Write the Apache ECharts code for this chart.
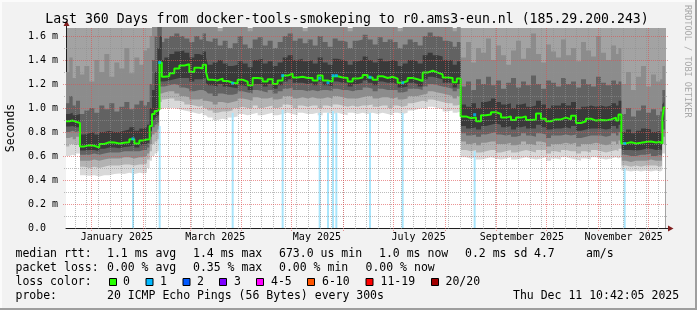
<!DOCTYPE html>
<html><head><meta charset="utf-8">
<script src="https://cdn.jsdelivr.net/npm/echarts@6/dist/echarts.min.js"></script>
<style>html,body{margin:0;padding:0;background:#f2f2f2;}#c{width:697px;height:310px;}</style>
</head><body><div id="c"></div>
<script>
// ---------------- data ----------------
// time axis: days after the graph start (Dec 16 2024 10:42:05)
const START = Date.UTC(2024, 11, 16, 10, 42, 5);
const SPAN_DAYS = 360;
const Y_MAX = 1.6667; // ms

const days = [
  0, 2, 4, 6,
  8.4, 11, 14, 17, 20, 23, 26, 29, 32, 35, 38, 41, 44, 46.5,
  48.6, 50.2, 51.6, 53.2, 54.8,
  56.1, 57.5, 59, 62, 65, 68, 71, 74, 77, 80, 82, 84,
  85.2, 88, 91, 94, 97, 100, 103, 106, 109, 112, 115, 118, 121, 124, 127, 130, 133, 136, 139, 142,
  145, 148, 151, 154, 157, 160, 163, 166, 169, 172, 175, 178, 181, 184, 187, 190, 193, 196, 199, 202,
  205, 208, 211, 214, 217, 220, 223, 226, 229, 232, 234.5,
  236.8, 240, 243, 246, 249, 252, 255, 258, 261, 264, 267, 270, 273, 276, 279, 282, 285, 288, 291, 294,
  297, 300, 303, 306, 309, 312, 315, 318, 321, 324, 327, 330, 331.5,
  333.2, 336, 339, 342, 345, 348, 351, 354, 356.5,
  357.8, 358.7, 359.4
];

// median rtt (ms)
const median = [
  0.89, 0.895, 0.885, 0.875,
  0.68, 0.69, 0.685, 0.67, 0.70, 0.715, 0.712, 0.705, 0.71, 0.715, 0.74, 0.705, 0.73, 0.737,
  0.74, 0.85, 0.95, 0.975, 0.99,
  1.38, 1.26, 1.265, 1.29, 1.33, 1.355, 1.365, 1.30, 1.335, 1.33, 1.36, 1.30,
  1.235, 1.23, 1.245, 1.225, 1.21, 1.205, 1.235, 1.22, 1.19, 1.25, 1.245, 1.22, 1.24, 1.20, 1.23, 1.27, 1.285, 1.255, 1.26, 1.25,
  1.25, 1.23, 1.27, 1.23, 1.22, 1.265, 1.255, 1.25, 1.22, 1.245, 1.255, 1.275, 1.255, 1.235, 1.265, 1.25, 1.26, 1.245, 1.21, 1.225,
  1.25, 1.24, 1.225, 1.295, 1.31, 1.295, 1.28, 1.255, 1.25, 1.215, 1.245,
  0.93, 0.915, 0.92, 0.89, 0.94, 0.945, 0.965, 0.95, 0.92, 0.93, 0.90, 0.92, 0.93, 0.90, 0.905, 0.955, 0.91, 0.89, 0.905, 0.905,
  0.92, 0.905, 0.935, 0.875, 0.89, 0.91, 0.895, 0.90, 0.897, 0.905, 0.92, 0.895, 0.945,
  0.705, 0.715, 0.705, 0.71, 0.716, 0.72, 0.712, 0.716, 0.704,
  0.914, 1.005, 1.005
];

// smoke: lower edges (L1 outermost ... L5 innermost)
const smokeL1 = [
  0.60, 0.61, 0.60, 0.62,
  0.44, 0.435, 0.44, 0.43, 0.44, 0.44, 0.45, 0.455, 0.45, 0.46, 0.45, 0.46, 0.455, 0.46,
  0.50, 0.56, 0.60, 0.62, 0.64,
  0.99, 1.0, 1.0, 1.0, 0.99, 0.98, 0.97, 0.96, 0.95, 0.96, 0.94, 0.95,
  0.92, 0.90, 0.91, 0.90, 0.92, 0.93, 0.95, 0.94, 0.95, 0.96, 0.94, 0.95, 0.96, 0.94, 0.95, 0.96, 0.95, 0.94, 0.96, 0.95,
  0.95, 0.96, 0.94, 0.96, 0.95, 0.96, 0.95, 0.94, 0.96, 0.95, 0.96, 0.95, 0.96, 0.95, 0.96, 0.95, 0.94, 0.96, 0.95, 0.96,
  0.98, 0.99, 1.0, 0.99, 1.01, 1.0, 0.99, 0.97, 0.98, 0.96, 0.97,
  0.59, 0.58, 0.59, 0.57, 0.58, 0.59, 0.58, 0.57, 0.58, 0.59, 0.57, 0.58, 0.59, 0.58, 0.57, 0.58, 0.59, 0.56, 0.58, 0.57,
  0.59, 0.58, 0.57, 0.56, 0.58, 0.57, 0.59, 0.58, 0.57, 0.58, 0.59, 0.58, 0.59,
  0.48, 0.47, 0.48, 0.47, 0.48, 0.47, 0.48, 0.47, 0.48,
  0.62, 0.62, 0.62
];
const smokeL2 = [
  0.68, 0.70, 0.69, 0.70,
  0.51, 0.50, 0.51, 0.50, 0.51, 0.52, 0.52, 0.52, 0.53, 0.53, 0.52, 0.53, 0.53, 0.54,
  0.57, 0.64, 0.70, 0.72, 0.74,
  1.05, 1.07, 1.08, 1.08, 1.06, 1.05, 1.03, 1.02, 1.01, 1.02, 1.0, 1.01,
  0.98, 0.96, 0.97, 0.97, 0.98, 1.0, 1.01, 1.0, 1.0, 1.02, 1.0, 1.01, 1.02, 1.0, 1.01, 1.03, 1.02, 1.0, 1.02, 1.01,
  1.02, 1.02, 1.0, 1.02, 1.01, 1.03, 1.02, 1.01, 1.02, 1.01, 1.02, 1.02, 1.03, 1.01, 1.02, 1.02, 1.0, 1.02, 1.01, 1.02,
  1.04, 1.05, 1.06, 1.05, 1.07, 1.06, 1.05, 1.04, 1.04, 1.02, 1.03,
  0.65, 0.64, 0.65, 0.63, 0.64, 0.65, 0.65, 0.63, 0.64, 0.65, 0.63, 0.64, 0.65, 0.64, 0.63, 0.65, 0.65, 0.62, 0.64, 0.63,
  0.65, 0.64, 0.64, 0.62, 0.64, 0.63, 0.65, 0.64, 0.63, 0.64, 0.65, 0.64, 0.66,
  0.52, 0.51, 0.52, 0.51, 0.52, 0.52, 0.52, 0.51, 0.52,
  0.70, 0.70, 0.70
];
const smokeL3 = [
  0.75, 0.76, 0.74, 0.76,
  0.56, 0.56, 0.57, 0.56, 0.57, 0.58, 0.58, 0.58, 0.59, 0.59, 0.58, 0.59, 0.59, 0.60,
  0.62, 0.70, 0.78, 0.80, 0.82,
  1.12, 1.13, 1.14, 1.14, 1.12, 1.10, 1.09, 1.07, 1.07, 1.08, 1.06, 1.06,
  1.05, 1.03, 1.05, 1.04, 1.05, 1.06, 1.08, 1.07, 1.06, 1.09, 1.08, 1.08, 1.09, 1.07, 1.08, 1.10, 1.10, 1.08, 1.09, 1.08,
  1.09, 1.08, 1.08, 1.09, 1.08, 1.10, 1.09, 1.08, 1.08, 1.08, 1.09, 1.10, 1.10, 1.08, 1.09, 1.09, 1.08, 1.09, 1.07, 1.08,
  1.10, 1.10, 1.11, 1.12, 1.14, 1.13, 1.12, 1.11, 1.10, 1.08, 1.10,
  0.72, 0.70, 0.71, 0.69, 0.71, 0.72, 0.72, 0.70, 0.70, 0.71, 0.69, 0.70, 0.72, 0.70, 0.69, 0.72, 0.71, 0.68, 0.70, 0.70,
  0.71, 0.70, 0.71, 0.68, 0.70, 0.70, 0.71, 0.70, 0.69, 0.70, 0.72, 0.70, 0.73,
  0.56, 0.55, 0.56, 0.56, 0.56, 0.57, 0.56, 0.56, 0.56,
  0.76, 0.76, 0.76
];
const smokeL4 = [
  0.80, 0.81, 0.80, 0.81,
  0.61, 0.61, 0.62, 0.61, 0.62, 0.63, 0.63, 0.63, 0.64, 0.64, 0.64, 0.64, 0.65, 0.65,
  0.67, 0.76, 0.84, 0.86, 0.88,
  1.18, 1.18, 1.19, 1.20, 1.19, 1.17, 1.16, 1.14, 1.15, 1.15, 1.14, 1.13,
  1.12, 1.10, 1.12, 1.11, 1.11, 1.12, 1.14, 1.13, 1.12, 1.15, 1.14, 1.13, 1.15, 1.12, 1.14, 1.16, 1.17, 1.15, 1.15, 1.14,
  1.15, 1.14, 1.15, 1.15, 1.14, 1.16, 1.15, 1.15, 1.14, 1.15, 1.15, 1.17, 1.16, 1.14, 1.16, 1.15, 1.15, 1.15, 1.13, 1.14,
  1.16, 1.16, 1.15, 1.18, 1.20, 1.19, 1.18, 1.17, 1.16, 1.14, 1.16,
  0.79, 0.77, 0.78, 0.76, 0.78, 0.79, 0.80, 0.78, 0.77, 0.78, 0.76, 0.77, 0.79, 0.77, 0.76, 0.79, 0.78, 0.75, 0.77, 0.77,
  0.78, 0.77, 0.78, 0.75, 0.76, 0.77, 0.77, 0.77, 0.76, 0.77, 0.79, 0.77, 0.80,
  0.61, 0.60, 0.60, 0.61, 0.61, 0.62, 0.60, 0.61, 0.60,
  0.82, 0.82, 0.82
];
const smokeL5 = [
  0.845, 0.85, 0.84, 0.84,
  0.645, 0.65, 0.65, 0.64, 0.66, 0.67, 0.67, 0.665, 0.675, 0.68, 0.69, 0.67, 0.69, 0.69,
  0.71, 0.81, 0.90, 0.92, 0.94,
  1.22, 1.22, 1.23, 1.24, 1.25, 1.25, 1.25, 1.22, 1.24, 1.24, 1.25, 1.21,
  1.19, 1.18, 1.20, 1.18, 1.17, 1.165, 1.19, 1.18, 1.15, 1.20, 1.20, 1.18, 1.20, 1.16, 1.19, 1.22, 1.24, 1.21, 1.21, 1.20,
  1.21, 1.19, 1.22, 1.19, 1.18, 1.22, 1.21, 1.21, 1.18, 1.20, 1.21, 1.23, 1.21, 1.19, 1.22, 1.21, 1.21, 1.20, 1.17, 1.18,
  1.21, 1.20, 1.18, 1.24, 1.26, 1.25, 1.24, 1.21, 1.21, 1.17, 1.20,
  0.85, 0.83, 0.84, 0.82, 0.85, 0.86, 0.87, 0.86, 0.84, 0.85, 0.82, 0.84, 0.85, 0.83, 0.83, 0.86, 0.84, 0.82, 0.83, 0.83,
  0.84, 0.83, 0.85, 0.81, 0.82, 0.83, 0.83, 0.83, 0.82, 0.83, 0.85, 0.83, 0.86,
  0.65, 0.65, 0.645, 0.65, 0.66, 0.66, 0.65, 0.655, 0.645,
  0.86, 0.90, 0.90
];
// smoke: upper edges (U5 innermost ... U3 outermost shown)
const smokeU5 = [
  0.95, 0.96, 0.94, 0.95,
  0.78, 0.79, 0.80, 0.78, 0.80, 0.81, 0.80, 0.80, 0.81, 0.82, 0.84, 0.81, 0.83, 0.84,
  0.86, 1.0, 1.15, 1.3, 1.5,
  1.60, 1.40, 1.42, 1.45, 1.47, 1.48, 1.46, 1.42, 1.45, 1.44, 1.47, 1.42,
  1.36, 1.38, 1.40, 1.37, 1.35, 1.36, 1.39, 1.37, 1.34, 1.40, 1.41, 1.37, 1.39, 1.35, 1.38, 1.42, 1.44, 1.40, 1.41, 1.39,
  1.40, 1.37, 1.42, 1.38, 1.36, 1.41, 1.40, 1.39, 1.36, 1.39, 1.40, 1.43, 1.40, 1.38, 1.41, 1.39, 1.40, 1.39, 1.35, 1.37,
  1.40, 1.39, 1.37, 1.44, 1.46, 1.44, 1.43, 1.40, 1.40, 1.36, 1.39,
  1.03, 1.01, 1.04, 1.00, 1.05, 1.06, 1.08, 1.05, 1.03, 1.04, 1.00, 1.03, 1.04, 1.01, 1.02, 1.06, 1.03, 1.00, 1.02, 1.02,
  1.04, 1.02, 1.05, 0.99, 1.01, 1.02, 1.01, 1.02, 1.01, 1.02, 1.04, 1.02, 1.06,
  0.80, 0.82, 0.79, 0.81, 0.83, 0.82, 0.80, 0.81, 0.79,
  1.03, 1.05, 1.05
];
const smokeU4 = [
  1.04, 1.10, 1.02, 1.06,
  0.95, 0.98, 1.00, 0.96, 1.02, 0.99, 1.04, 0.97, 1.01, 1.05, 0.99, 1.03, 1.06, 1.02,
  1.05, 1.2, 1.4, 1.6, 1.7,
  1.70, 1.55, 1.58, 1.60, 1.62, 1.60, 1.58, 1.55, 1.60, 1.57, 1.62, 1.56,
  1.55, 1.58, 1.52, 1.56, 1.50, 1.54, 1.60, 1.53, 1.50, 1.57, 1.59, 1.52, 1.56, 1.50, 1.55, 1.60, 1.62, 1.56, 1.58, 1.54,
  1.57, 1.52, 1.60, 1.55, 1.51, 1.58, 1.56, 1.55, 1.50, 1.56, 1.57, 1.61, 1.57, 1.53, 1.59, 1.55, 1.57, 1.55, 1.50, 1.53,
  1.57, 1.55, 1.52, 1.60, 1.63, 1.60, 1.59, 1.56, 1.55, 1.51, 1.55,
  1.18, 1.22, 1.15, 1.24, 1.20, 1.26, 1.19, 1.23, 1.16, 1.21, 1.25, 1.17, 1.22, 1.19, 1.27, 1.20, 1.16, 1.23, 1.21, 1.18,
  1.25, 1.20, 1.22, 1.17, 1.24, 1.20, 1.18, 1.26, 1.21, 1.19, 1.23, 1.20, 1.22,
  0.95, 1.00, 0.93, 0.98, 1.02, 0.96, 0.99, 0.94, 0.97,
  1.15, 1.15, 1.15
];
const smokeU3 = [
  1.30, 1.42, 1.25, 1.35,
  1.28, 1.35, 1.22, 1.40, 1.30, 1.45, 1.26, 1.38, 1.33, 1.50, 1.29, 1.42, 1.36, 1.48,
  1.50, 1.60, 1.70, 1.70, 1.70,
  1.8, 1.8, 1.8, 1.8, 1.8, 1.8, 1.8, 1.8, 1.8, 1.8, 1.8, 1.8,
  1.8, 1.8, 1.64, 1.8, 1.8, 1.8, 1.8, 1.8, 1.64, 1.8, 1.8, 1.8, 1.8, 1.8, 1.8, 1.8, 1.8, 1.8, 1.8, 1.64,
  1.8, 1.8, 1.8, 1.8, 1.8, 1.8, 1.8, 1.8, 1.64, 1.8, 1.8, 1.8, 1.8, 1.8, 1.8, 1.8, 1.8, 1.8, 1.64, 1.8,
  1.8, 1.8, 1.8, 1.8, 1.8, 1.8, 1.8, 1.8, 1.8, 1.64, 1.8,
  1.42, 1.55, 1.38, 1.50, 1.46, 1.58, 1.40, 1.52, 1.44, 1.36, 1.48, 1.56, 1.41, 1.50, 1.62, 1.45, 1.38, 1.53, 1.47, 1.42,
  1.57, 1.44, 1.50, 1.39, 1.55, 1.48, 1.43, 1.60, 1.46, 1.40, 1.52, 1.45, 1.50,
  1.20, 1.30, 1.15, 1.26, 1.35, 1.18, 1.28, 1.22, 1.24,
  1.35, 1.35, 1.35
];

// packet loss events (1/20 lost)
const lossDays   = [40.2, 56.2, 100.0, 130.0, 152.2, 157.2, 160.2, 162.2, 182.4, 202.0, 245.2, 335.2];
const lossBarTop = [0.50, 0.85, 0.96, 0.985, 0.96, 0.96, 0.975, 0.96, 0.96, 0.96, 0.64, 0.50];
const lossMedian = [0.743, 1.38, 1.206, 1.27, 1.248, 1.21, 1.27, 1.27, 1.256, 1.21, 0.944, 0.704];

// axis labels / grid
const yTicksMajor = [0.2, 0.4, 0.6, 0.8, 1.0, 1.2, 1.4, 1.6];
const yTicksMinor = [0.1, 0.3, 0.5, 0.7, 0.9, 1.1, 1.3, 1.5];
const monthStarts = ['2025-01-01','2025-02-01','2025-03-01','2025-04-01','2025-05-01','2025-06-01',
                     '2025-07-01','2025-08-01','2025-09-01','2025-10-01','2025-11-01','2025-12-01'];
const firstWeekLine = '2024-12-22';
const xLabelDates = ['2025-01-16','2025-03-16','2025-05-16','2025-07-16','2025-09-16','2025-11-16'];
const xLabelNames = ['January 2025','March 2025','May 2025','July 2025','September 2025','November 2025'];

// legend texts
const titleText = 'Last 360 Days from docker-tools-smokeping to r0.ams3-eun.nl (185.29.200.243)';
const rttLabel = 'median rtt:';
const rttStats = ['1.1 ms avg', '1.4 ms max', '673.0 us min', '1.0 ms now', '0.2 ms sd', '4.7', 'am/s'];
const lossLabel = 'packet loss:';
const lossStats = ['0.00 % avg', '0.35 % max', '0.00 % min', '0.00 % now'];
const lossColorLabel = 'loss color:';
const lossColorNames = ['0', '1', '2', '3', '4-5', '6-10', '11-19', '20/20'];
const lossColors = ['#26ff00', '#00b8ff', '#0059ff', '#7e00ff', '#ff00ff', '#ff5500', '#ff0000', '#a10000'];
const probeLabel = 'probe:';
const probeText = '20 ICMP Echo Pings (56 Bytes) every 300s';
const dateText = 'Thu Dec 11 10:42:05 2025';
const watermark = 'RRDTOOL / TOBI OETIKER';

// ---------------- layout / style ----------------
const FONT = '"DejaVu Sans Mono", monospace';
const C1 = '#d9d9d9', C2 = '#b3b3b3', C3 = '#8c8c8c', C4 = '#626262', C5 = '#3a3a3a', TOP = '#a3a3a3';
const GRID_MINOR = 'rgba(143,143,143,0.6)';
const GRID_MAJOR = 'rgba(222,79,79,0.6)';
const LOSS_BAR = '#a9e5fb';

const dayOf = s => (Date.parse(s + 'T00:00:00Z') - START) / 864e5;
const monthDays = monthStarts.map(dayOf);
const weekDays = [];
for (let d = dayOf(firstWeekLine); d < SPAN_DAYS; d += 7) weekDays.push(d);
const xLabelDays = xLabelDates.map(dayOf);

const chart = echarts.init(document.getElementById('c'), null, {renderer: 'canvas', width: 697, height: 310});

const pts = vals => days.map((d, i) => [d, vals[i]]);
function band(vals, color) {
  return {type: 'line', step: 'end', data: pts(vals), symbol: 'none', showSymbol: false, silent: true,
          lineStyle: {opacity: 0}, areaStyle: {color: color, opacity: 1}, z: 1, animation: false};
}
function gridSeries(items, vertical, color, ext) {
  return {
    type: 'custom', silent: true, z: 10, animation: false, clip: false,
    dimensions: ['v'],
    encode: vertical ? {x: 0} : {y: 0},
    data: items.map(v => [v]),
    renderItem: function (params, api) {
      const cs = params.coordSys;
      const v = api.value(0);
      const st = {stroke: color, lineWidth: 1, lineDash: [1, 1], fill: null};
      if (vertical) {
        const x = Math.floor(api.coord([v, 0])[0] + 0.001) + 0.5;
        return {type: 'line', shape: {x1: x, y1: cs.y, x2: x, y2: cs.y + cs.height + ext}, style: st};
      }
      const y = Math.floor(api.coord([SPAN_DAYS / 2, v])[1] + 0.001) + 0.5;
      return {type: 'line', shape: {x1: cs.x - ext, y1: y, x2: cs.x + cs.width + ext, y2: y}, style: st};
    }
  };
}
function txt(text, x, y, size, align) {
  return {type: 'text', x: x, y: y, silent: true, z: 100,
    style: {text: text, font: size + 'px ' + FONT, fill: '#000', textAlign: align || 'left', align: align || 'left',
            textVerticalAlign: 'middle', verticalAlign: 'middle'}};
}

const graphics = [];
// frame
graphics.push({type: 'rect', shape: {x: 0, y: 0, width: 697, height: 2}, style: {fill: '#fbfbfb'}, silent: true});
graphics.push({type: 'rect', shape: {x: 0, y: 0, width: 2, height: 310}, style: {fill: '#fbfbfb'}, silent: true});
graphics.push({type: 'rect', shape: {x: 0, y: 308, width: 697, height: 2}, style: {fill: '#9e9e9e'}, silent: true});
graphics.push({type: 'rect', shape: {x: 695, y: 0, width: 2, height: 310}, style: {fill: '#9e9e9e'}, silent: true});
// axis arrows
graphics.push({type: 'line', shape: {x1: 66.5, y1: 28, x2: 66.5, y2: 25}, style: {stroke: '#1f1f1f', lineWidth: 1}, silent: true, z: 50});
graphics.push({type: 'polygon', shape: {points: [[63.5, 26], [69.5, 26], [66.5, 20.5]]}, style: {fill: '#801f1f'}, silent: true, z: 50});
graphics.push({type: 'line', shape: {x1: 666, y1: 228.5, x2: 669, y2: 228.5}, style: {stroke: '#1f1f1f', lineWidth: 1}, silent: true, z: 50});
graphics.push({type: 'polygon', shape: {points: [[668, 225.5], [668, 231.5], [673.5, 228.5]]}, style: {fill: '#801f1f'}, silent: true, z: 50});
// title
graphics.push(txt(titleText, 347, 19.5, 13.2, 'center'));
// watermark
graphics.push({type: 'text', x: 687, y: 5, rotation: -Math.PI / 2, silent: true, z: 100,
  style: {text: watermark, font: '8.5px ' + FONT, fill: '#a8a8a8', textAlign: 'left', align: 'left',
          textVerticalAlign: 'middle', verticalAlign: 'middle'}});
// legend rows
const rowY = [254, 268.2, 282.3, 296.2];
graphics.push(txt(rttLabel, 15.5, rowY[0], 11.5));
const rttX = [107, 193, 279, 379, 465, 534, 586];
rttStats.forEach((s, i) => graphics.push(txt(s, rttX[i], rowY[0], 11.5)));
graphics.push(txt(lossLabel, 15.5, rowY[1], 11.5));
const lossX = [107, 193, 279, 365.5];
lossStats.forEach((s, i) => graphics.push(txt(s, lossX[i], rowY[1], 11.5)));
graphics.push(txt(lossColorLabel, 15.5, rowY[2], 11.5));
const boxX = [109, 145.5, 182.5, 219, 256, 307, 365.5, 431];
const boxLabelX = [123, 160, 197, 234, 271, 322, 380.5, 445.5];
lossColorNames.forEach((s, i) => {
  graphics.push({type: 'rect', shape: {x: boxX[i] + 0.5, y: rowY[2] - 3.8, width: 7, height: 7},
    style: {fill: lossColors[i], stroke: '#000', lineWidth: 1}, silent: true, z: 100});
  graphics.push(txt(s, boxLabelX[i], rowY[2], 11.5));
});
graphics.push(txt(probeLabel, 15.5, rowY[3], 11.5));
graphics.push(txt(probeText, 107, rowY[3], 11.5));
graphics.push(txt(dateText, 513, rowY[3], 11.5));

const option = {
  backgroundColor: '#f2f2f2',
  animation: false,
  textStyle: {fontFamily: FONT},
  grid: {left: 66, top: 28, width: 600, height: 200, show: true, backgroundColor: TOP, borderWidth: 0,
         containLabel: false, outerBoundsMode: 'none'},
  xAxis: {
    type: 'value', min: 0, max: SPAN_DAYS,
    axisLine: {show: true, onZero: false, lineStyle: {color: '#1f1f1f', width: 1}},
    axisTick: {show: false}, splitLine: {show: false},
    axisLabel: {
      customValues: xLabelDays,
      formatter: function (v) {
        let best = 0;
        xLabelDays.forEach((d, i) => { if (Math.abs(d - v) < Math.abs(xLabelDays[best] - v)) best = i; });
        return xLabelNames[best];
      },
      fontFamily: FONT, fontSize: 10, color: '#000', margin: 4
    }
  },
  yAxis: {
    type: 'value', min: 0, max: Y_MAX, interval: 0.2,
    axisLine: {show: true, onZero: false, lineStyle: {color: '#1f1f1f', width: 1}},
    axisTick: {show: false}, splitLine: {show: false},
    axisLabel: {
      formatter: v => v > 1.61 ? '' : (v === 0 ? '0.0  ' : v.toFixed(1) + ' m'),
      fontFamily: FONT, fontSize: 10, color: '#000', margin: 8
    },
    name: 'Seconds', nameLocation: 'middle', nameGap: 48,
    nameTextStyle: {fontFamily: FONT, fontSize: 11.5, color: '#000'}
  },
  graphic: graphics,
  series: [
    band(smokeU3, C3), band(smokeU4, C4), band(smokeU5, C5),
    band(smokeL5, C4), band(smokeL4, C3), band(smokeL3, C2), band(smokeL2, C1), band(smokeL1, '#ffffff'),
    {type: 'bar', data: lossDays.map((d, i) => [d, lossBarTop[i]]), barWidth: 2, itemStyle: {color: LOSS_BAR},
     z: 2, silent: true, animation: false},
    {type: 'line', step: 'end', data: pts(median), symbol: 'none', showSymbol: false, silent: true,
     lineStyle: {color: '#000', width: 1}, z: 3},
    {type: 'line', step: 'end', data: pts(median), symbol: 'none', showSymbol: false, silent: true,
     lineStyle: {color: lossColors[0], width: 2}, z: 4},
    {type: 'scatter', data: lossDays.map((d, i) => [d, lossMedian[i]]), symbol: 'rect', symbolSize: [3, 3],
     itemStyle: {color: lossColors[1]}, z: 5, silent: true},
    gridSeries(weekDays, true, GRID_MINOR, 1),
    gridSeries(yTicksMinor, false, GRID_MINOR, 2),
    gridSeries(monthDays, true, GRID_MAJOR, 3),
    gridSeries(yTicksMajor, false, GRID_MAJOR, 3)
  ]
};
chart.setOption(option);
</script></body></html>
